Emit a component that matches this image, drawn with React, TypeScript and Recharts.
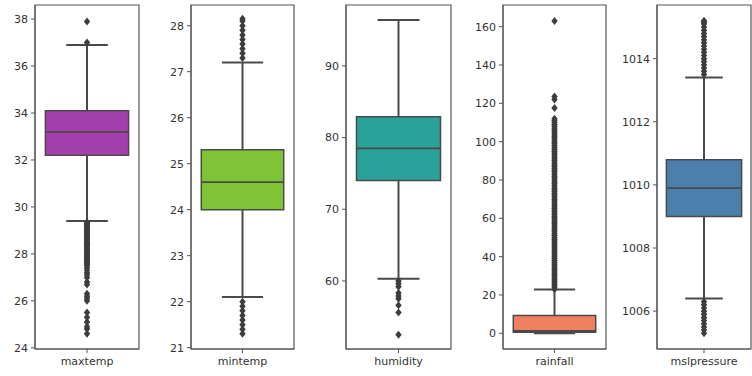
import {
  ComposedChart,
  XAxis,
  YAxis,
  Scatter,
  ReferenceArea,
  ReferenceLine,
} from "recharts";

// one entry per panel
const names = ["maxtemp", "mintemp", "humidity", "rainfall", "mslpressure"];
const colors = ["#a63fae", "#7fc437", "#29a39a", "#f08060", "#4b80ac"];

const q1 = [32.2, 24.0, 74.0, 0.5, 1009.0];
const medians = [33.2, 24.6, 78.5, 1.2, 1009.9];
const q3 = [34.1, 25.3, 82.9, 9.3, 1010.8];
const whiskerLow = [29.4, 22.1, 60.3, 0, 1006.4];
const whiskerHigh = [36.9, 27.2, 96.4, 22.8, 1013.4];

const domains: [number, number][] = [
  [23.95, 38.6],
  [20.97, 28.45],
  [50.5, 98.5],
  [-8.2, 171.3],
  [1004.8, 1015.7],
];
const yTicks = [
  [24, 26, 28, 30, 32, 34, 36, 38],
  [21, 22, 23, 24, 25, 26, 27, 28],
  [60, 70, 80, 90],
  [0, 20, 40, 60, 80, 100, 120, 140, 160],
  [1006, 1008, 1010, 1012, 1014],
];

const maxtempOutliers = [
  37.9, 37.0, 29.35, 29.3, 29.25, 29.2, 29.15, 29.1, 29.05, 29.0, 28.95, 28.9,
  28.85, 28.8, 28.75, 28.7, 28.65, 28.6, 28.55, 28.5, 28.45, 28.4, 28.35, 28.3,
  28.25, 28.2, 28.15, 28.1, 28.05, 28.0, 27.95, 27.9, 27.85, 27.8, 27.75, 27.7,
  27.65, 27.6, 27.55, 27.5, 27.4, 27.3, 27.2, 27.1, 27.0, 26.8, 26.7, 26.3, 26.2,
  26.1, 26.0, 25.5, 25.3, 25.1, 24.9, 24.8, 24.6,
];
const mintempOutliers = [
  28.15, 28.1, 28.0, 27.9, 27.8, 27.7, 27.6, 27.5, 27.4, 27.3, 22.0, 21.9, 21.8,
  21.7, 21.6, 21.5, 21.4, 21.3,
];
const humidityOutliers = [60.0, 59.6, 59.2, 58.3, 57.9, 57.5, 56.6, 55.6, 52.5];
const rainfallOutliers = [
  23, 24, 25, 26, 27, 28, 29, 30, 31, 32, 33, 34, 35, 36, 37, 38, 39, 40, 41, 42,
  43, 44, 45, 46, 47, 48, 49, 50, 51, 52, 53, 54, 55, 56, 57, 58, 59, 60, 61, 62,
  63, 64, 65, 66, 67, 68, 69, 70, 71, 72, 73, 74, 75, 76, 77, 78, 79, 80, 81, 82,
  83, 84, 85, 86, 87, 88, 89, 90, 91, 92, 93, 94, 95, 96, 97, 98, 99, 100, 101,
  102, 103, 104, 105, 106, 107, 108, 109, 110, 111, 112, 117.5, 122, 123.5, 163,
];
const mslpressureOutliers = [
  1015.2, 1015.15, 1015.1, 1015.0, 1014.9, 1014.8, 1014.7, 1014.6, 1014.5,
  1014.4, 1014.3, 1014.2, 1014.1, 1014.0, 1013.9, 1013.8, 1013.7, 1013.6,
  1013.5, 1006.3, 1006.2, 1006.1, 1006.0, 1005.9, 1005.8, 1005.7, 1005.6,
  1005.5, 1005.4, 1005.3,
];
const outliers = [
  maxtempOutliers,
  mintempOutliers,
  humidityOutliers,
  rainfallOutliers,
  mslpressureOutliers,
];

// pixel left / right of each axes frame
const frames = [
  [35, 139],
  [191, 294],
  [346, 451],
  [503, 606],
  [657, 751],
];

const LINE = "#4a4a4a";
const FRAME = "#555";
const Y_AXIS_W = 45;
const tickStyle = { fontSize: 11, fill: "#333", fontFamily: "DejaVu Sans" };

const Diamond = (props: any) => {
  const { cx, cy } = props;
  if (cx == null || cy == null) return null;
  return (
    <path
      d={`M${cx},${cy - 4} L${cx + 3.2},${cy} L${cx},${cy + 4} L${cx - 3.2},${cy} Z`}
      fill="#3d3d3d"
    />
  );
};

function BoxPanel({ i }: { i: number }) {
  const [left, right] = frames[i];
  const width = right - left + Y_AXIS_W + 1;
  const pts = outliers[i].map((y) => ({ x: 0, y }));
  return (
    <div style={{ position: "absolute", left: left - Y_AXIS_W, top: 0 }}>
      <ComposedChart width={width} height={376} margin={{ top: 5, right: 1, bottom: 0, left: 0 }}>
        <XAxis
          dataKey="x"
          type="number"
          domain={[-0.5, 0.5]}
          ticks={[0]}
          tickFormatter={() => names[i]}
          height={27}
          tickSize={4}
          tickMargin={4}
          stroke={FRAME}
          tick={tickStyle}
        />
        <YAxis
          type="number"
          domain={domains[i]}
          ticks={yTicks[i]}
          allowDataOverflow
          width={Y_AXIS_W}
          tickSize={4}
          tickMargin={3}
          stroke={FRAME}
          tick={tickStyle}
        />
        {/* axes frame */}
        <ReferenceArea
          x1={-0.5}
          x2={0.5}
          y1={domains[i][0]}
          y2={domains[i][1]}
          fill="none"
          stroke={FRAME}
          strokeWidth={1.2}
        />
        <ReferenceLine segment={[{ x: 0, y: q3[i] }, { x: 0, y: whiskerHigh[i] }]} stroke={LINE} strokeWidth={2} />
        <ReferenceLine segment={[{ x: 0, y: whiskerLow[i] }, { x: 0, y: q1[i] }]} stroke={LINE} strokeWidth={2} />
        <ReferenceLine segment={[{ x: -0.2, y: whiskerHigh[i] }, { x: 0.2, y: whiskerHigh[i] }]} stroke={LINE} strokeWidth={2} />
        <ReferenceLine segment={[{ x: -0.2, y: whiskerLow[i] }, { x: 0.2, y: whiskerLow[i] }]} stroke={LINE} strokeWidth={2} />
        <ReferenceArea x1={-0.4} x2={0.4} y1={q1[i]} y2={q3[i]} fill={colors[i]} fillOpacity={1} stroke={LINE} strokeWidth={1.5} />
        <ReferenceLine segment={[{ x: -0.4, y: medians[i] }, { x: 0.4, y: medians[i] }]} stroke={LINE} strokeWidth={1.8} />
        <Scatter data={pts} dataKey="y" shape={Diamond} isAnimationActive={false} />
      </ComposedChart>
    </div>
  );
}

export default function App() {
  return (
    <div
      style={{
        position: "absolute",
        left: 0,
        top: 0,
        width: 752,
        height: 376,
        overflow: "hidden",
        background: "#fff",
      }}
    >
      {names.map((n, i) => (
        <BoxPanel key={n} i={i} />
      ))}
    </div>
  );
}
